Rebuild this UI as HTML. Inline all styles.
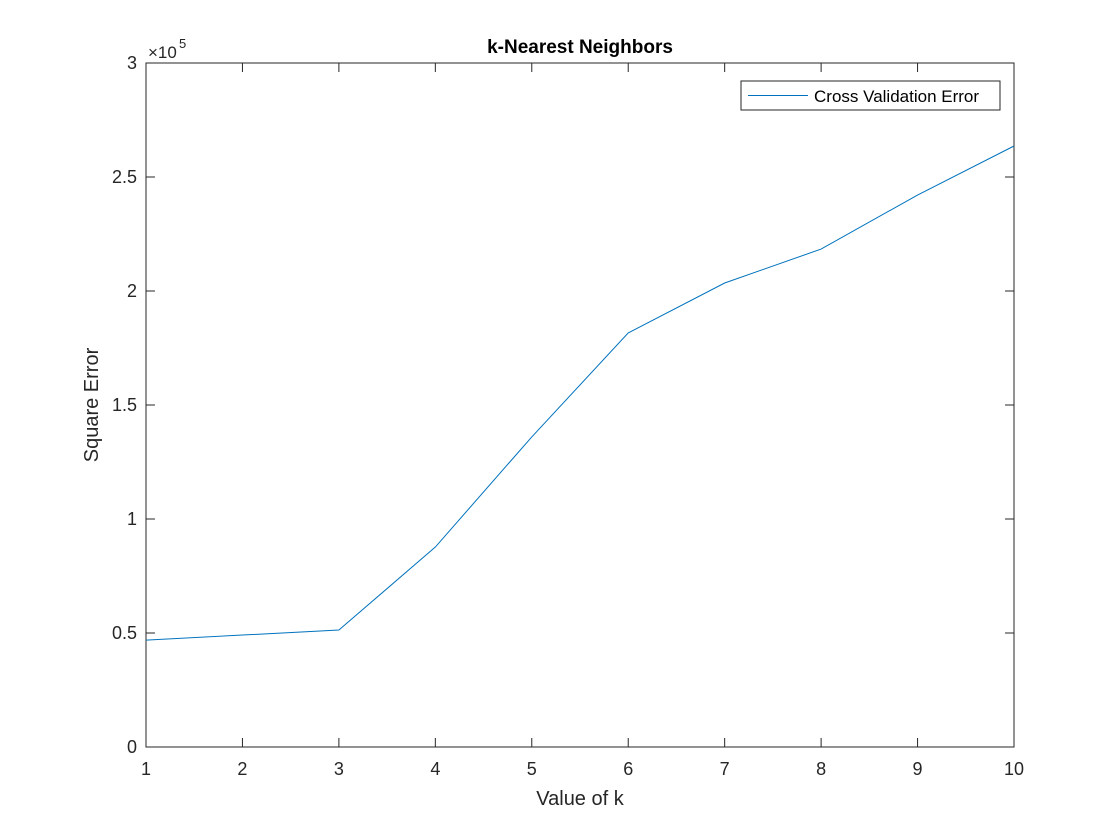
<!DOCTYPE html>
<html><head><meta charset="utf-8"><style>
body{margin:0;background:#fff;}
svg{display:block;font-family:"Liberation Sans",Helvetica,Arial,sans-serif;}
</style></head><body>
<svg id="chart" width="1120" height="840" viewBox="0 0 1120 840">
<rect x="0" y="0" width="1120" height="840" fill="#fff"/>
</svg>
<script>
const kValues=[1,2,3,4,5,6,7,8,9,10];
const cvError=[46900,49100,51300,87700,136000,181600,203500,218400,242100,263600];
const xTicks=[1,2,3,4,5,6,7,8,9,10];
const yTicks=[0,0.5,1,1.5,2,2.5,3];
const L=146,R=1014,T=63,B=747;
const xS=v=>L+(v-1)/9*(R-L);
const yS=v=>B-v/300000*(B-T);
const svg=document.getElementById('chart');
const NS='http://www.w3.org/2000/svg';
function mk(tag,attrs,txt){const e=document.createElementNS(NS,tag);for(const k in attrs)e.setAttribute(k,attrs[k]);if(txt!==undefined)e.textContent=txt;svg.appendChild(e);return e;}
let e=mk('rect',{x:L,y:T,width:R-L,height:B-T,fill:'#fff',stroke:'#262626','stroke-width':1});


xTicks.forEach(t=>{const x=xS(t);
 mk('line',{x1:x,x2:x,y1:B,y2:B-9,stroke:'#262626'});
 mk('line',{x1:x,x2:x,y1:T,y2:T+9,stroke:'#262626'});
 const l=mk('text',{x:x,y:B+28,'text-anchor':'middle','font-size':18,fill:'#262626'},t);
 
 
});
yTicks.forEach(t=>{const y=yS(t*100000);
 mk('line',{x1:L,x2:L+9,y1:y,y2:y,stroke:'#262626'});
 mk('line',{x1:R,x2:R-9,y1:y,y2:y,stroke:'#262626'});
 const l=mk('text',{x:L-9,y:y+6,'text-anchor':'end','font-size':18,fill:'#262626'},t);
 
 
});
e=mk('text',{x:148,y:58,'font-size':17,fill:'#262626'},'×10');


mk('text',{x:179,y:48,'font-size':13,fill:'#262626'},'5');
e=mk('text',{x:580,y:53,'text-anchor':'middle','font-size':19,'font-weight':'bold',fill:'#000'},'k-Nearest Neighbors');


e=mk('text',{x:580,y:805,'text-anchor':'middle','font-size':20,fill:'#262626'},'Value of k');


e=mk('text',{x:98,y:405,'text-anchor':'middle','font-size':20,fill:'#262626',transform:'rotate(-90 98 405)'},'Square Error');


const pts=kValues.map((k,i)=>xS(k)+','+yS(cvError[i])).join(' ');
e=mk('polyline',{points:pts,fill:'none',stroke:'#0072BD','stroke-width':1});


e=mk('rect',{x:741,y:81,width:259,height:29,fill:'#fff',stroke:'#262626','stroke-width':1});


mk('line',{x1:748,x2:808,y1:95.5,y2:95.5,stroke:'#0072BD','stroke-width':1});
e=mk('text',{x:814,y:102,'font-size':17,fill:'#000'},'Cross Validation Error');


</script>
</body></html>
